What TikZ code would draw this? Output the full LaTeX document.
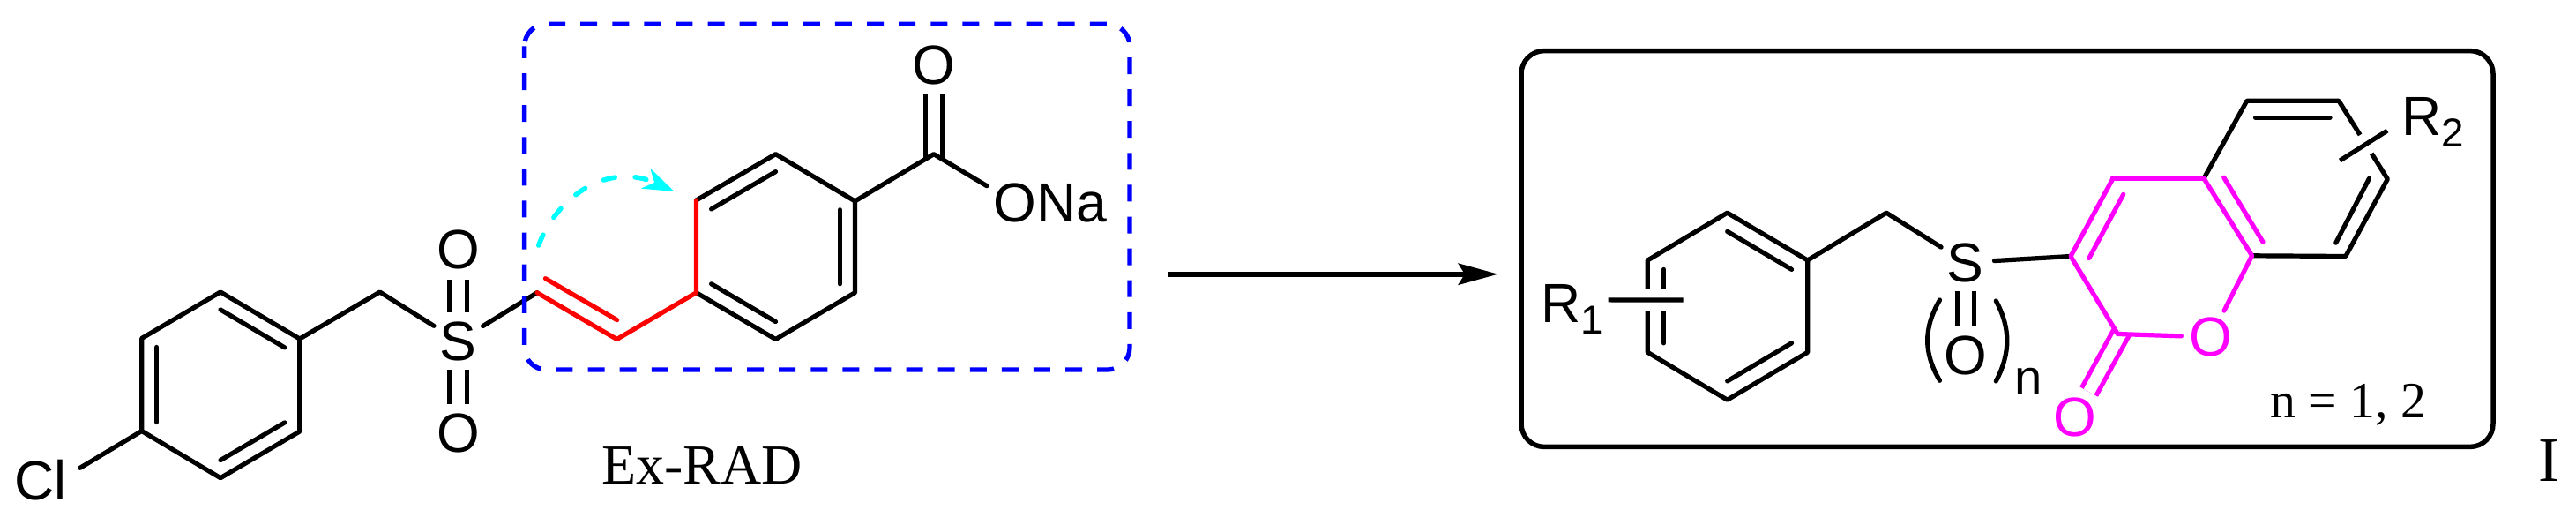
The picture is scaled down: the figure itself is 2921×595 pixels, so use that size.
\documentclass[tikz,border=0pt]{standalone}
\usepackage{fontspec}
\setmainfont{Liberation Serif}
\setsansfont{Liberation Sans}
\usetikzlibrary{calc,arrows.meta}
\definecolor{boxblue}{RGB}{0,0,255}
\definecolor{bondred}{RGB}{255,0,0}
\definecolor{bondpink}{RGB}{255,0,255}
\definecolor{curvecyan}{RGB}{0,255,255}
\newcommand{\lowidx}[1]{\raisebox{-3.7pt}{\fontsize{13}{15}\selectfont #1}}
\tikzset{
	atom/.style={circle,inner sep=0pt,minimum size=6.4mm,font=\sffamily\fontsize{17.8}{20}\selectfont},
	group/.style={inner ysep=0pt,font=\sffamily\fontsize{17.8}{20}\selectfont},
	caption/.style={inner sep=0pt,font=\rmfamily},
	bond/.style={line width=.52mm},
	dbl/.style={bond,line cap=butt,double,double distance=1.42mm},
	subst/.style={bond,line cap=butt,preaction={draw,white,line width=2.45mm}}
}
\begin{document}
\begin{tikzpicture}[x=0.1mm,y=-0.1mm,line join=round,line cap=round]
	\useasboundingbox (0,0) rectangle (2921,595);
	% ring atoms
	\foreach \n/\p in {a1/{250,331},a2/{339.8,384},a3/{339.8,489},a4/{250,541.7},a5/{160.7,488.5},a6/{160.7,383.5},ac/{250,436},
		ch/{430.7,331},v1/{609,331.7},v2/{699.5,384.5},
		b1/{879.5,174.7},b2/{969.5,228},b3/{969.5,331.7},b4/{879.5,384.5},b5/{789.5,331.7},b6/{789.5,227},bc/{879.5,279.5},
		co/{1058.8,174.7},
		d1/{1958.6,241.2},d2/{2049.7,295},d3/{2049.7,399.3},d4/{1958.6,453.2},d5/{1868.3,399.3},d6/{1868.3,295},dc/{1959,347},
		ci/{2139,241.2},c3/{2348,290.5},c4/{2396,202.2},c4a/{2499,202.2},c8a/{2553.6,289.8},c2/{2401.3,378.5},c2o/{2406,376},
		c5/{2547.8,114.3},c6/{2652,114.3},c7/{2707.3,203},c8/{2659.8,290.5}}
		\coordinate (\n) at (\p);

	% labels
	\node[group,inner xsep=1.45mm] (Cl) at (46,544) {Cl};
	\node[atom] (Sa) at (519.7,386.7) {S};
	\node[atom] (Oa) at (519.7,283.3) {O};
	\node[atom] (Ob) at (519.7,491) {O};
	\node[atom] (Oc) at (1058.8,74) {O};
	\node[group,inner xsep=.7mm] (ONa) at (1191,230) {ONa};
	\node[group,inner xsep=.45mm] (Ra) at (1783,350) {R\lowidx{1}};
	\node[group,inner xsep=1.6mm] (Rb) at (2759,138) {R\lowidx{2}};
	\node[atom] (Sb) at (2228.8,297.5) {S};
	\node[atom] (Od) at (2228.8,402.8) {O};
	\node[group,inner sep=0pt,font=\sffamily\fontsize{16}{18}\selectfont,anchor=base west] (nidx) at (2284,447.3) {n};
	\node[atom,text=bondpink] (Oe) at (2506.8,382) {O};
	\node[atom,text=bondpink] (Of) at (2352.5,473.4) {O};
	\node[caption,font=\rmfamily\fontsize{18.2}{20}\selectfont,anchor=base] (exrad) at (796,549) {Ex-RAD};
	\node[caption,font=\rmfamily\fontsize{16.4}{18}\selectfont,anchor=base] (cond) at (2663,474) {n = 1, 2};
	\node[caption,font=\rmfamily\fontsize{20.4}{22}\selectfont,anchor=base] (lab) at (2890,545.3) {I};

	% double bonds to oxygen come first, the single bonds close their ends
	\draw[dbl] (Sa) -- (Oa);
	\draw[dbl] (Sa) -- (Ob);
	\draw[dbl,shorten >=-.4mm] (Oc) -- (co);
	\draw[dbl] (Sb) -- (Od);
	\draw[dbl,bondpink,double distance=1.33mm] (c2o) -- (Of);

	% 4-chlorobenzyl part
	\draw[bond] (a1)--(a2)--(a3)--(a4)--(a5)--(a6)--cycle;
	\draw[bond] (a5) -- (Cl.17);
	\draw[bond] (a2) -- (ch) -- (Sa);
	\draw[bond] (Sa) -- (v1);
	\foreach \i/\j in {a6/a5,a1/a2,a3/a4}
		\draw[bond] ($(\i)!.19!(ac)$) -- ($(\j)!.19!(ac)$);

	% benzoate part
	\draw[bond] (b6)--(b1)--(b2)--(b3)--(b4)--(b5);
	\foreach \i/\j in {b6/b1,b2/b3,b4/b5}
		\draw[bond] ($(\i)!.19!(bc)$) -- ($(\j)!.19!(bc)$);
	\draw[bond] (b2) -- (co) -- (ONa.165);

	% vinyl linker
	\draw[bond,bondred] (v1)--(v2)--(b5)--(b6);
	\coordinate (w1) at (618.5,315.7);
	\coordinate (w2) at (699.7,362.7);
	\draw[bond,bondred] (w1) -- (w2);

	% benzyl part of the product
	\draw[bond] (d1)--(d2)--(d3)--(d4)--(d5)--(d6)--cycle;
	\foreach \i/\j in {d6/d5,d1/d2,d3/d4}
		\draw[bond] ($(\i)!.2!(dc)$) -- ($(\j)!.2!(dc)$);
	\coordinate (rend) at (1908.7,340);
	\draw[subst] (Ra.14) -- (rend);
	\draw[bond] (d2) -- (ci) -- (Sb);
	\draw[bond] (Sb) -- (c3);

	% coumarin
	\draw[bond] (c4a)--(c5)--(c6)--(c7)--(c8)--(c8a);
	\coordinate (ia) at (2557.5,133.4);
	\coordinate (ib) at (2642,133.4);
	\coordinate (ic) at (2686.5,202.2);
	\coordinate (id) at (2648.7,275.2);
	\draw[bond] (ia) -- (ib);
	\draw[bond] (ic) -- (id);
	\coordinate (rbend) at (2653.3,182);
	\draw[subst] (Rb.191) -- (rbend);
	\draw[bond,bondpink] (c2)--(c3)--(c4);
	\draw[bond,bondpink,line width=.65mm] (c4)--(c4a);
	\draw[bond,bondpink] (c4a)--(c8a)--(Oe);
	\draw[bond,bondpink] (c2)--(Oe);
	\coordinate (ie) at (2407.8,220.3);
	\coordinate (ig) at (2368.8,292.6);
	\coordinate (ih) at (2521.7,201.2);
	\coordinate (ij) at (2566,274.2);
	\draw[bond,bondpink] (ie) -- (ig);
	\draw[bond,bondpink] (ih) -- (ij);

	% brackets of (O)n
	\coordinate (pa) at (2199.5,340);
	\coordinate (pb) at (2199.5,431.3);
	\coordinate (pc) at (2263.3,341);
	\coordinate (pd) at (2263.3,432);
	\draw[bond] (pa) .. controls (2181,372) and (2181,400) .. (pb);
	\draw[bond] (pc) .. controls (2280,372) and (2280,400) .. (pd);

	% frames
	\draw[boxblue,line width=.53mm,line cap=butt,dash pattern=on 1.9mm off 1.71mm,dash phase=.53mm,rounded corners=2.5mm]
		(594.6,27.3) rectangle (1281,419);
	\draw[line width=.55mm,rounded corners=2.6mm] (1725,57.6) rectangle (2827,506.4);

	% arrows
	\coordinate (cya) at (610.7,278);
	\coordinate (cyb) at (764.5,217);
	\draw[curvecyan,line width=.55mm,dash pattern=on 1.3mm off 2.3mm,-{Stealth[length=10pt,width=7pt,inset=3pt]}]
		(cya) .. controls (632,222) and (690,183) .. (cyb);
	\coordinate (ara) at (1323.8,310.7);
	\coordinate (arb) at (1698.9,310.7);
	\draw[line width=.63mm,line cap=butt,-{Stealth[length=12.8pt,width=6.8pt,inset=2pt]}] (ara) -- (arb);
\end{tikzpicture}
\end{document}
